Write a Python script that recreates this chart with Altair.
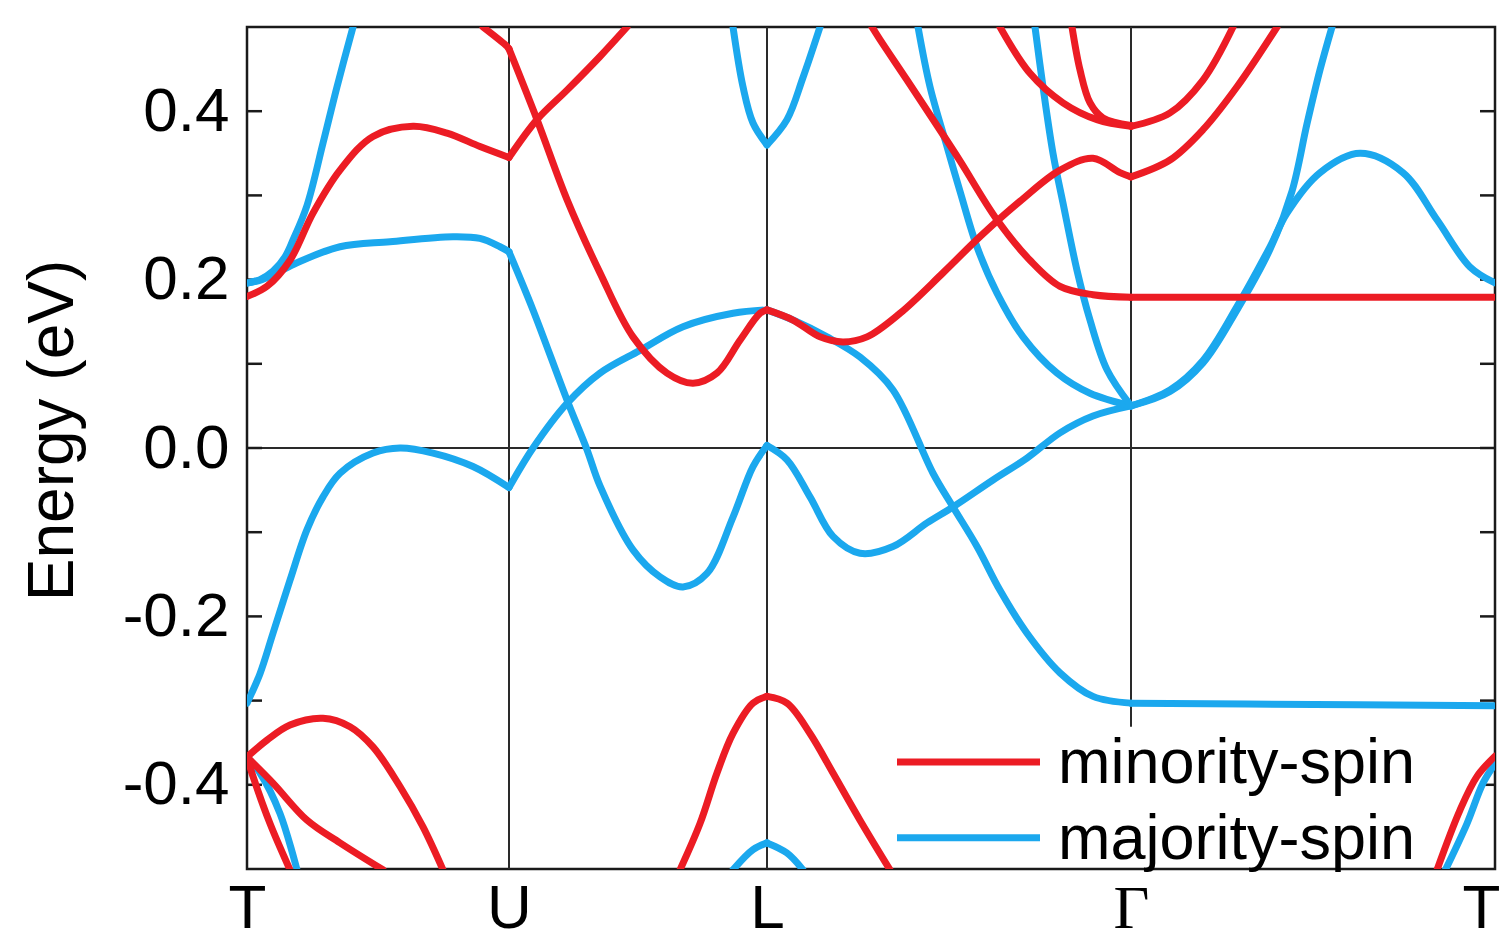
import altair as alt
import pandas as pd

RED = "#ec1c24"
BLUE = "#1ba8ee"

# symmetry points along the k-path
sym_k = [0, 262, 520, 884, 1248]
sym_labels = ["T", "U", "L", "Γ", "T"]

y_tick_values = [-0.4, -0.2, 0.0, 0.2, 0.4]
inner_tick_E = [-0.4, -0.3, -0.2, -0.1, 0.0, 0.1, 0.2, 0.3, 0.4]

# ---------------- majority-spin bands (k, energy eV)
maj_a_k = [0, 13, 26, 38, 46, 60, 76, 90, 106]
maj_a_e = [0.196, 0.200, 0.210, 0.227, 0.247, 0.288, 0.362, 0.429, 0.500]

maj_b_k = [0, 15, 30, 50, 93, 143, 206, 233, 253, 262, 286, 320, 340, 353, 386, 413,
           436, 460, 486, 506, 520, 540, 563, 586, 613, 646, 680, 706, 746, 780, 813,
           846, 884, 923, 956, 990, 1023, 1040, 1073, 1113, 1156, 1190, 1223, 1248]
maj_b_e = [0.196, 0.200, 0.208, 0.220, 0.239, 0.245, 0.251, 0.249, 0.239, 0.233, 0.164,
           0.057, -0.002, -0.045, -0.121, -0.153, -0.165, -0.149, -0.082, -0.022, 0.003,
           -0.014, -0.058, -0.105, -0.125, -0.117, -0.089, -0.070, -0.038, -0.012, 0.018,
           0.038, 0.050, 0.069, 0.104, 0.168, 0.239, 0.279, 0.327, 0.350, 0.327, 0.271,
           0.215, 0.196]

maj_c_k = [884, 923, 956, 990, 1023, 1045, 1060, 1073, 1085]
maj_c_e = [0.050, 0.067, 0.101, 0.164, 0.236, 0.305, 0.385, 0.449, 0.500]

maj_d_k = [671, 683, 700, 713, 730, 750, 776, 810, 843, 884]
maj_d_e = [0.500, 0.429, 0.358, 0.305, 0.239, 0.184, 0.132, 0.089, 0.065, 0.050]

maj_e_k = [788, 796, 806, 816, 830, 843, 860, 884]
maj_e_e = [0.500, 0.429, 0.350, 0.291, 0.211, 0.152, 0.093, 0.050]

maj_f_k = [486, 496, 506, 520, 540, 556, 573]
maj_f_e = [0.500, 0.429, 0.386, 0.360, 0.390, 0.440, 0.500]

maj_g_k = [0, 13, 26, 43, 60, 76, 93, 126, 153, 186, 226, 262, 286, 320, 353, 393, 436,
           486, 520, 546, 580, 613, 646, 686, 706, 730, 753, 780, 813, 846, 884,
           1000, 1248]
maj_g_e = [-0.303, -0.268, -0.220, -0.157, -0.097, -0.058, -0.030, -0.006, 0.000, -0.006,
           -0.022, -0.047, 0.000, 0.053, 0.089, 0.116, 0.144, 0.160, 0.164, 0.152, 0.132,
           0.108, 0.069, -0.030, -0.070, -0.117, -0.169, -0.220, -0.267, -0.295,
           -0.303, -0.304, -0.306]

maj_h_k = [486, 506, 520, 540, 556]
maj_h_e = [-0.501, -0.477, -0.469, -0.481, -0.501]

maj_i_k = [0, 13, 33, 50]
maj_i_e = [-0.367, -0.386, -0.434, -0.501]

maj_j_k = [1198, 1220, 1236, 1248]
maj_j_e = [-0.502, -0.446, -0.398, -0.375]

# ---------------- minority-spin bands
min_a_k = [0, 20, 43, 66, 93, 126, 166, 200, 233, 262, 290, 320, 353, 380]
min_a_e = [0.180, 0.192, 0.223, 0.279, 0.330, 0.370, 0.382, 0.374, 0.358, 0.345, 0.390,
           0.425, 0.465, 0.500]

min_b_k = [236, 260, 262, 290, 320, 353, 386, 420, 446, 470, 493, 513, 520, 546, 573, 596,
           620, 653, 696, 733, 773, 813, 846, 873, 884, 923, 956, 990, 1030]
min_b_e = [0.500, 0.477, 0.474, 0.390, 0.295, 0.208, 0.132, 0.089, 0.077, 0.089, 0.128,
           0.160, 0.164, 0.152, 0.132, 0.126, 0.132, 0.160, 0.208, 0.251, 0.293, 0.330,
           0.344, 0.327, 0.322, 0.342, 0.378, 0.429, 0.500]

min_c_k = [625, 633, 660, 690, 713, 750, 783, 813, 846, 884, 1248]
min_c_e = [0.500, 0.485, 0.437, 0.383, 0.341, 0.271, 0.223, 0.192, 0.182, 0.179, 0.179]

min_d_k = [753, 783, 816, 850, 884, 923, 956, 986]
min_d_e = [0.500, 0.445, 0.410, 0.390, 0.382, 0.398, 0.437, 0.500]

min_e_k = [825, 833, 843, 856, 884]
min_e_e = [0.500, 0.449, 0.410, 0.392, 0.383]

min_f_k = [0, 20, 43, 76, 103, 126, 153, 176, 196]
min_f_e = [-0.367, -0.347, -0.329, -0.321, -0.331, -0.355, -0.402, -0.450, -0.501]

min_g_k = [0, 26, 60, 93, 136]
min_g_e = [-0.367, -0.398, -0.442, -0.469, -0.501]

min_h_k = [0, 6, 23, 43]
min_h_e = [-0.367, -0.390, -0.446, -0.501]

min_i_k = [433, 453, 470, 486, 506, 520, 540, 563, 586, 613, 643]
min_i_e = [-0.501, -0.446, -0.386, -0.339, -0.303, -0.295, -0.303, -0.339, -0.386, -0.442,
           -0.501]

min_j_k = [1190, 1213, 1230, 1248]
min_j_e = [-0.501, -0.430, -0.390, -0.366]

# legend
legend_labels = ["minority-spin", "majority-spin"]
legend_colors = [RED, BLUE]
legend_E = [-0.373, -0.463]
legend_k = [650, 650]
legend_k2 = [793, 793]
legend_text_k = [811, 811]

# vertical symmetry lines (Γ line stops at the legend)
vline_k = [262, 520, 884]
vline_top = [0.5, 0.5, 0.5]
vline_bottom = [-0.5, -0.5, -0.331]

bands = [
    ("majority", "maj_a", maj_a_k, maj_a_e), ("majority", "maj_b", maj_b_k, maj_b_e),
    ("majority", "maj_c", maj_c_k, maj_c_e), ("majority", "maj_d", maj_d_k, maj_d_e),
    ("majority", "maj_e", maj_e_k, maj_e_e), ("majority", "maj_f", maj_f_k, maj_f_e),
    ("majority", "maj_g", maj_g_k, maj_g_e), ("majority", "maj_h", maj_h_k, maj_h_e),
    ("majority", "maj_i", maj_i_k, maj_i_e), ("majority", "maj_j", maj_j_k, maj_j_e),
    ("minority", "min_a", min_a_k, min_a_e), ("minority", "min_b", min_b_k, min_b_e),
    ("minority", "min_c", min_c_k, min_c_e), ("minority", "min_d", min_d_k, min_d_e),
    ("minority", "min_e", min_e_k, min_e_e), ("minority", "min_f", min_f_k, min_f_e),
    ("minority", "min_g", min_g_k, min_g_e), ("minority", "min_h", min_h_k, min_h_e),
    ("minority", "min_i", min_i_k, min_i_e), ("minority", "min_j", min_j_k, min_j_e),
]

rows = []
for spin, name, ks, es in bands:
    for i in range(len(sym_k) - 1):
        a, b = sym_k[i], sym_k[i + 1]
        seg = [(k, e) for k, e in zip(ks, es) if a <= k <= b]
        if len(seg) >= 2:
            for k, e in seg:
                rows.append({"spin": spin, "band": f"{name}_{i}", "k": k, "E": e})
df = pd.DataFrame(rows)

FONT = "Liberation Sans"

label_expr = " : ".join(
    f"datum.value == {k} ? '{lab}'" for k, lab in zip(sym_k, sym_labels)
) + " : ''"

x_enc = alt.X(
    "k:Q",
    scale=alt.Scale(domain=[sym_k[0], sym_k[-1]], nice=False, zero=False),
    axis=alt.Axis(
        values=sym_k, labelExpr=label_expr, title=None, ticks=False, domain=False,
        grid=False, labelFontSize=62,
        labelFont={"condition": {"test": f"datum.value == {sym_k[3]}", "value": "Liberation Serif"},
                   "value": FONT},
        labelOffset={"condition": {"test": f"datum.value == {sym_k[-1]}", "value": -14},
                     "value": 0},
        labelPadding=9, labelColor="black", labelFlush=False, labelOverlap=False,
    ),
)
y_enc = alt.Y(
    "E:Q",
    scale=alt.Scale(domain=[-0.5, 0.5], nice=False, zero=False),
    axis=alt.Axis(
        values=y_tick_values,
        labelExpr="replace(format(datum.value, '.1f'), '\u2212', '-')",
        title="Energy (eV)", ticks=False, domain=False, grid=False,
        labelFontSize=62, labelFont=FONT, labelColor="black", labelPadding=18,
        titleFontSize=64, titleFont=FONT, titleFontWeight="normal", titleColor="black",
        titleX=-175, titleY=403, titleAngle=270, titleAlign="center",
        titleBaseline="alphabetic",
    ),
)

vline_df = pd.DataFrame({"k": vline_k, "E": vline_top, "E2": vline_bottom})
vlines = alt.Chart(vline_df).mark_rule(color="#2a2a2a", strokeWidth=2).encode(
    x=x_enc, y=y_enc, y2="E2:Q"
)

zero_df = pd.DataFrame({"E": [0.0]})
zero_line = alt.Chart(zero_df).mark_rule(color="#2a2a2a", strokeWidth=2).encode(y=y_enc)

tick_df = pd.DataFrame({"E": inner_tick_E})
ticks_left = alt.Chart(tick_df).mark_rule(color="#1a1a1a", strokeWidth=2.5).encode(
    y=y_enc, x=alt.value(0), x2=alt.value(15)
)
ticks_right = alt.Chart(tick_df).mark_rule(color="#1a1a1a", strokeWidth=2.5).encode(
    y=y_enc, x=alt.value(1233), x2=alt.value(1248)
)

blue_lines = alt.Chart(df[df.spin == "majority"]).mark_line(
    color=BLUE, strokeWidth=7, interpolate="catmull-rom", clip=True, strokeCap="round"
).encode(x=x_enc, y=y_enc, detail="band:N", order="k:Q")

red_lines = alt.Chart(df[df.spin == "minority"]).mark_line(
    color=RED, strokeWidth=7, interpolate="catmull-rom", clip=True, strokeCap="round"
).encode(x=x_enc, y=y_enc, detail="band:N", order="k:Q")

leg_df = pd.DataFrame({
    "label": legend_labels, "color": legend_colors, "E": legend_E,
    "k": legend_k, "k2": legend_k2, "kt": legend_text_k,
})
leg_lines = alt.Chart(leg_df).mark_rule(strokeWidth=7).encode(
    x=x_enc, x2="k2:Q", y=y_enc, color=alt.Color("color:N", scale=None)
)
leg_text = alt.Chart(leg_df).mark_text(
    align="left", baseline="alphabetic", dy=21, fontSize=63, font=FONT, color="black"
).encode(x=alt.X("kt:Q"), y=y_enc, text="label:N")

chart = alt.layer(
    vlines, zero_line, ticks_left, ticks_right, blue_lines, red_lines, leg_lines, leg_text
).properties(
    width=1248, height=842,
    autosize=alt.AutoSizeParams(type="none"),
    padding={"left": 239, "top": 19, "right": 6, "bottom": 72},
    background="white",
).configure_view(stroke="#1a1a1a", strokeWidth=2.5)

chart.save("out.html", embed_options={"renderer": "svg", "actions": False})
